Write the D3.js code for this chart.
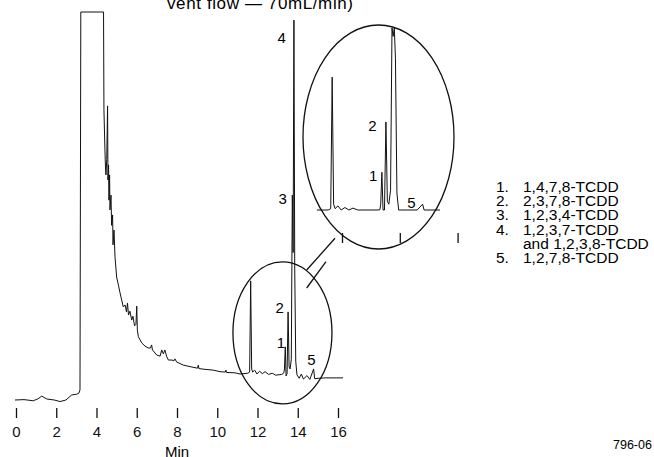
<!DOCTYPE html>
<html>
  <head>
    <meta charset="utf-8">
    <title>TCDD chromatogram</title>
    <script src="https://d3js.org/d3.v7.min.js"></script>
    <style>
      body { margin: 0; background: #fff; }
      svg { display: block; font-family: "Liberation Sans", Arial, sans-serif; }
      .trace { fill: none; stroke: #111; stroke-width: 1; stroke-linejoin: round; }
      .ring { fill: none; stroke: #111; stroke-width: 1.3; }
      .tick line { stroke: #111; stroke-width: 1.3; }
      .tick text { fill: #111; }
    </style>
  </head>
  <body>
    <div id="chart"></div>
    <script>
      // chromatogram (minutes, detector response)
      const retention = [-0.05, 0.40, 0.86, 1.09, 1.28, 1.53, 1.90, 2.19, 2.48, 2.77, 3.02, 3.13, 3.18,
        3.22, 4.35, 4.37, 4.42, 4.45, 4.47, 4.51, 4.55, 4.57, 4.60, 4.62, 4.65, 4.67, 4.72, 4.75, 4.80,
        4.82, 4.87, 4.92, 5.00, 5.09, 5.17, 5.33, 5.42, 5.49, 5.54, 5.59, 5.66, 5.75, 5.81, 5.89, 5.96,
        6.00, 6.03, 6.08, 6.25, 6.41, 6.57, 6.68, 6.74, 6.78, 6.99, 7.16, 7.24, 7.32, 7.40, 7.48, 7.57,
        7.75, 7.85, 7.90, 7.98, 8.31, 8.65, 9.02, 9.06, 9.09, 9.39, 9.80, 10.14, 10.40, 10.43, 10.46,
        10.88, 11.13, 11.52, 11.61, 11.66, 11.71, 11.76, 11.86, 11.97, 12.10, 12.24, 12.38, 12.55, 12.73,
        12.90, 13.07, 13.21, 13.31, 13.34, 13.38, 13.42, 13.47, 13.52, 13.57, 13.62, 13.68, 13.73, 13.77,
        13.81, 13.85, 13.90, 13.96, 14.07, 14.18, 14.28, 14.46, 14.60, 14.79, 14.84, 15.05, 15.39, 15.80, 16.25];
      const response = [0, 0.1, -0.2, 0.3, 1.0, 0.26, 0.0, -0.4, 0.0, 1.3, 1.5, 1.8, 2.6,
        100, 100, 74.7, 64.4, 59.3, 58, 62, 75.8, 56.7, 60.6, 51.5, 58, 49, 52.8, 45, 47.7,
        40, 43.8, 36.9, 31.7, 29.6, 27.6, 24, 24.5, 22.7, 25, 21.9, 22.9, 20.6, 21.6, 19.1, 19.5,
        24.2, 18, 16.3, 14.7, 13.9, 13.4, 13.4, 14.2, 12.9, 11.6, 11.3, 12.9, 11.9, 12.9, 11.3, 10.3,
        10.3, 10.1, 10.6, 9.8, 9.0, 8.6, 8.2, 9.0, 8.1, 7.9, 7.7, 7.3, 7.2, 7.7, 7.1,
        7.0, 6.7, 6.9, 7.2, 30.7, 8.0, 7.2, 7.7, 6.7, 7.4, 6.8, 7.3, 6.6, 6.9,
        6.4, 6.5, 6.6, 7.0, 8.0, 13.7, 6.2, 6.8, 22.7, 8.5, 8.0, 10.5, 52.8, 38,
        97.9, 34, 10, 6.5, 5.6, 6.7, 5.4, 6.3, 5.3, 8.0, 5.5, 5.6, 5.7, 5.7, 5.7];

      const axisMinutes = [0, 2, 4, 6, 8, 10, 12, 14, 16];
      const insetMinutes = [12, 14, 16];

      // peak number labels (minutes, response) in the full trace and in the blow-up
      const peakNames = ["1", "2", "3", "4", "5"];
      const mainLabelTime = [13.16, 13.10, 13.25, 13.20, 14.68];
      const mainLabelResp = [13.5, 22.4, 50.5, 92.0, 9.0];
      const insetPeakNames = ["1", "2", "5"];
      const insetLabelTime = [13.08, 13.05, 14.40];
      const insetLabelResp = [12.2, 21.0, 7.3];

      const legendNums = ["1.", "2.", "3.", "4.", "", "5."];
      const legendNames = ["1,4,7,8-TCDD", "2,3,7,8-TCDD", "1,2,3,4-TCDD", "1,2,3,7-TCDD",
        "and 1,2,3,8-TCDD", "1,2,7,8-TCDD"];

      const width = 654, height = 457;
      const svg = d3.select("#chart").append("svg")
        .attr("width", width)
        .attr("height", height);

      const trace = retention.map(function(t, i) { return [t, response[i]]; });

      // main trace scales
      const x = d3.scaleLinear().domain([0, 16]).range([16, 338]);
      const y = d3.scaleLinear().domain([0, 100]).range([400, 12]);

      // blow-up scales
      const xi = d3.scaleLinear().domain([12, 16]).range([342, 457.6]);
      const yi = d3.scaleLinear().domain([6.96, 39.5]).range([210, 28]).clamp(true);

      const mainLine = d3.line()
        .x(function(d) { return x(d[0]); })
        .y(function(d) { return y(d[1]); });
      const insetLine = d3.line()
        .x(function(d) { return xi(d[0]); })
        .y(function(d) { return yi(d[1]); });

      // title (cut by the top edge)
      svg.append("text")
        .attr("x", 167)
        .attr("y", 9)
        .attr("font-size", 17)
        .attr("textLength", 186)
        .attr("lengthAdjust", "spacing")
        .text("vent flow \u2014 70mL/min)");

      svg.append("path")
        .datum(trace)
        .attr("class", "trace")
        .attr("d", mainLine);

      // ring round the TCDD region
      const ringMain = { t: 13.24, s: 17.3, dt: 2.46, ds: 18.3 };
      svg.append("ellipse")
        .attr("class", "ring")
        .attr("cx", x(ringMain.t))
        .attr("cy", y(ringMain.s))
        .attr("rx", x(ringMain.t + ringMain.dt) - x(ringMain.t))
        .attr("ry", y(ringMain.s) - y(ringMain.s + ringMain.ds));

      // blow-up ring
      svg.append("ellipse")
        .attr("class", "ring")
        .attr("cx", 378.5)
        .attr("cy", 137)
        .attr("rx", 75.5)
        .attr("ry", 112);

      // connector
      svg.append("line").attr("class", "ring")
        .attr("x1", 306.7).attr("y1", 270).attr("x2", 335).attr("y2", 238.3);
      svg.append("line").attr("class", "ring")
        .attr("x1", 306.7).attr("y1", 288).attr("x2", 326).attr("y2", 261.7);

      svg.append("path")
        .datum(trace.filter(function(d) { return d[0] >= 11.13 && d[0] <= 15.39; }))
        .attr("class", "trace")
        .attr("d", insetLine);

      // axes
      const axis = svg.append("g")
        .attr("transform", "translate(0,408)")
        .call(d3.axisBottom(x).tickValues(axisMinutes).tickSize(10).tickFormat(d3.format("d")));
      axis.select(".domain").remove();
      axis.selectAll(".tick text")
        .attr("y", 29)
        .attr("dy", 0)
        .attr("font-size", 15)
        .attr("font-family", "Liberation Sans, Arial, sans-serif");

      const insetAxis = svg.append("g")
        .attr("transform", "translate(0,233)")
        .call(d3.axisBottom(xi).tickValues(insetMinutes).tickSize(10).tickFormat(""));
      insetAxis.select(".domain").remove();
      insetAxis.selectAll(".tick line").attr("stroke-width", 1.1);

      svg.append("text")
        .attr("x", x(8))
        .attr("y", 457)
        .attr("text-anchor", "middle")
        .attr("font-size", 15)
        .text("Min");

      // peak numbers
      svg.selectAll(".peakLabel")
        .data(peakNames)
        .enter().append("text")
          .attr("class", "peakLabel")
          .attr("x", function(d, i) { return x(mainLabelTime[i]); })
          .attr("y", function(d, i) { return y(mainLabelResp[i]); })
          .attr("text-anchor", "middle")
          .attr("font-size", 15)
          .text(function(d) { return d; });
      svg.selectAll(".insetLabel")
        .data(insetPeakNames)
        .enter().append("text")
          .attr("class", "insetLabel")
          .attr("x", function(d, i) { return xi(insetLabelTime[i]); })
          .attr("y", function(d, i) { return yi(insetLabelResp[i]); })
          .attr("text-anchor", "middle")
          .attr("font-size", 15)
          .text(function(d) { return d; });

      // legend
      const legend = svg.append("g")
        .attr("font-size", 15.5);
      legend.selectAll(".num")
        .data(legendNums)
        .enter().append("text")
          .attr("x", 496)
          .attr("y", function(d, i) { return 192 + i * 14.2; })
          .text(function(d) { return d; });
      legend.selectAll(".name")
        .data(legendNames)
        .enter().append("text")
          .attr("x", 523)
          .attr("y", function(d, i) { return 192 + i * 14.2; })
          .text(function(d) { return d; });

      svg.append("text")
        .attr("x", 613)
        .attr("y", 449)
        .attr("font-size", 12.5)
        .text("796-06");
    </script>
  </body>
</html>
